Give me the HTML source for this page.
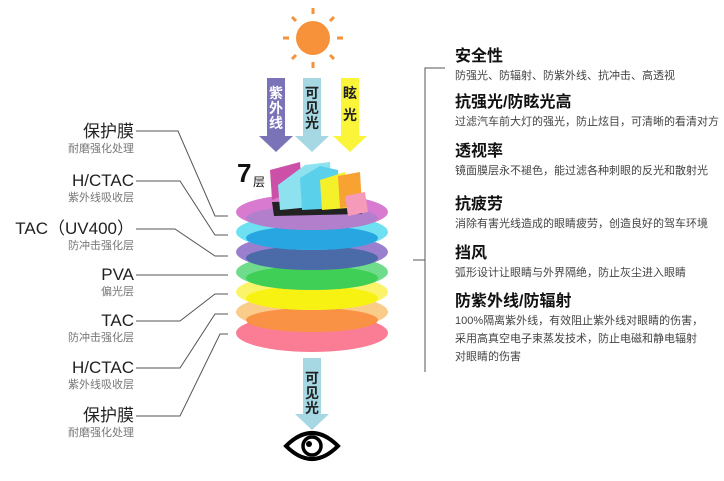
<!DOCTYPE html><html><head><meta charset="utf-8"><style>
body{margin:0;background:#fff;width:724px;height:481px;overflow:hidden;position:relative;font-family:"Liberation Sans","Noto Sans CJK SC",sans-serif}
.l{position:absolute;right:590px;text-align:right;white-space:nowrap}
.l b{display:block;font-weight:normal;font-size:17px;color:#222;line-height:20px}
.l i{display:block;font-style:normal;font-size:11px;color:#777;line-height:14px}
.r{position:absolute;left:455px;white-space:nowrap}
.r b{display:block;font-size:16px;color:#111;line-height:20px}
.r i{display:block;font-style:normal;font-size:11px;color:#444;line-height:18px}
</style></head><body>
<svg width="724" height="481" style="position:absolute;left:0;top:0">
<g fill="#f7913a"><circle cx="313" cy="38" r="17"/>
<g stroke="#f7913a" stroke-width="3"><line x1="313" y1="8" x2="313" y2="14"/><line x1="313" y1="62" x2="313" y2="68"/><line x1="283" y1="38" x2="289" y2="38"/><line x1="337" y1="38" x2="343" y2="38"/><line x1="292" y1="17" x2="296" y2="21"/><line x1="330" y1="55" x2="334" y2="59"/><line x1="334" y1="17" x2="330" y2="21"/><line x1="296" y1="55" x2="292" y2="59"/></g></g>
<polygon points="267,78 285,78 285,136 293,136 276,152 259,136 267,136" fill="#7a73b8"/>
<polygon points="303,78 321,78 321,136 329,136 312,152 295,136 303,136" fill="#a6d8e4"/>
<polygon points="341,78 359,78 359,136 367,136 350,152 333,136 341,136" fill="#fbf53a"/>
<g font-size="14" font-weight="bold" font-family="Noto Sans CJK SC,sans-serif">
<text x="276" y="98" text-anchor="middle" fill="#fff">紫</text><text x="276" y="113" text-anchor="middle" fill="#fff">外</text><text x="276" y="128" text-anchor="middle" fill="#fff">线</text>
<text x="312" y="98" text-anchor="middle" fill="#222">可</text><text x="312" y="113" text-anchor="middle" fill="#222">见</text><text x="312" y="128" text-anchor="middle" fill="#222">光</text>
<text x="350" y="98" text-anchor="middle" fill="#222">眩</text><text x="350" y="120" text-anchor="middle" fill="#222">光</text></g>
<ellipse cx="312" cy="333" rx="76" ry="19" fill="#fb7c95"/>
<ellipse cx="312" cy="312" rx="76" ry="18" fill="#f9c77c" opacity=".9"/>
<ellipse cx="312" cy="320" rx="66" ry="12" fill="#f99245"/>
<ellipse cx="312" cy="292" rx="76" ry="18" fill="#fbf36a"/>
<ellipse cx="312" cy="298" rx="66" ry="12" fill="#f7f211"/>
<ellipse cx="312" cy="272" rx="76" ry="18" fill="#6fdc8c"/>
<ellipse cx="312" cy="278" rx="66" ry="12" fill="#3fcf56"/>
<ellipse cx="312" cy="252" rx="76" ry="18" fill="#9a7fce"/>
<ellipse cx="312" cy="258" rx="66" ry="12" fill="#4a6ba8"/>
<ellipse cx="312" cy="232" rx="76" ry="18" fill="#6ee0f2"/>
<ellipse cx="312" cy="238" rx="66" ry="12" fill="#27a6e2"/>
<ellipse cx="312" cy="212" rx="76" ry="18" fill="#d77ad0"/>
<ellipse cx="312" cy="218" rx="66" ry="12" fill="#b27fcc"/>
<polygon points="272,202 360,200 362,214 274,216" fill="#222"/>
<polygon points="270,170 300,162 302,188 272,200" fill="#cc4fa8"/>
<polygon points="278,185 305,165 330,162 332,205 280,210" fill="#8ee2ef"/>
<polygon points="300,178 320,166 338,170 340,208 302,210" fill="#5ad0ea"/>
<polygon points="320,180 345,172 348,208 322,210" fill="#f4f02a"/>
<polygon points="338,176 360,172 362,206 340,208" fill="#f8a232"/>
<polygon points="345,196 365,192 368,212 348,216" fill="#f59ab8"/>
<text x="237" y="182" font-size="26" font-weight="bold" fill="#111">7</text><text x="253" y="186" font-size="12" fill="#111" font-family="Noto Sans CJK SC,sans-serif">层</text>
<polygon points="303,358 321,358 321,414 329,414 312,430 295,414 303,414" fill="#a6d8e4"/>
<g font-size="14" font-weight="bold" fill="#222" font-family="Noto Sans CJK SC,sans-serif" text-anchor="middle"><text x="312" y="383">可</text><text x="312" y="398">见</text><text x="312" y="413">光</text></g>
<path d="M286,446 Q312,420 338,446 Q312,472 286,446Z" fill="none" stroke="#000" stroke-width="4"/>
<circle cx="312" cy="446" r="9" fill="none" stroke="#000" stroke-width="3.5"/><circle cx="309" cy="444" r="3" fill="#000"/>
<g fill="none" stroke="#555" stroke-width="1">
<polyline points="136,131 178,131 215,216 228,216"/>
<polyline points="136,181 180,181 215,235 228,235"/>
<polyline points="136,229 175,229 215,256 228,256"/>
<polyline points="136,275 228,275"/>
<polyline points="136,321 180,321 215,294 228,294"/>
<polyline points="136,368 180,368 215,314 228,314"/>
<polyline points="136,416 180,416 220,334 228,334"/>
<polyline points="445,68 425,68 425,372"/>
<line x1="413" y1="260" x2="425" y2="260"/></g>
</svg>
<div class="l" style="top:122px"><b>保护膜</b><i>耐磨强化处理</i></div>
<div class="l" style="top:171px"><b>H/CTAC</b><i>紫外线吸收层</i></div>
<div class="l" style="top:219px"><b>TAC（UV400）</b><i>防冲击强化层</i></div>
<div class="l" style="top:265px"><b>PVA</b><i>偏光层</i></div>
<div class="l" style="top:311px"><b>TAC</b><i>防冲击强化层</i></div>
<div class="l" style="top:358px"><b>H/CTAC</b><i>紫外线吸收层</i></div>
<div class="l" style="top:406px"><b>保护膜</b><i>耐磨强化处理</i></div>
<div class="r" style="top:47px"><b>安全性</b><i>防强光、防辐射、防紫外线、抗冲击、高透视</i></div>
<div class="r" style="top:93px"><b>抗强光/防眩光高</b><i>过滤汽车前大灯的强光，防止炫目，可清晰的看清对方</i></div>
<div class="r" style="top:142px"><b>透视率</b><i>镜面膜层永不褪色，能过滤各种刺眼的反光和散射光</i></div>
<div class="r" style="top:195px"><b>抗疲劳</b><i>消除有害光线造成的眼睛疲劳，创造良好的驾车环境</i></div>
<div class="r" style="top:244px"><b>挡风</b><i>弧形设计让眼睛与外界隔绝，防止灰尘进入眼睛</i></div>
<div class="r" style="top:292px"><b>防紫外线/防辐射</b><i>100%隔离紫外线，有效阻止紫外线对眼睛的伤害，<br>采用高真空电子束蒸发技术，防止电磁和静电辐射<br>对眼睛的伤害</i></div>
</body></html>
